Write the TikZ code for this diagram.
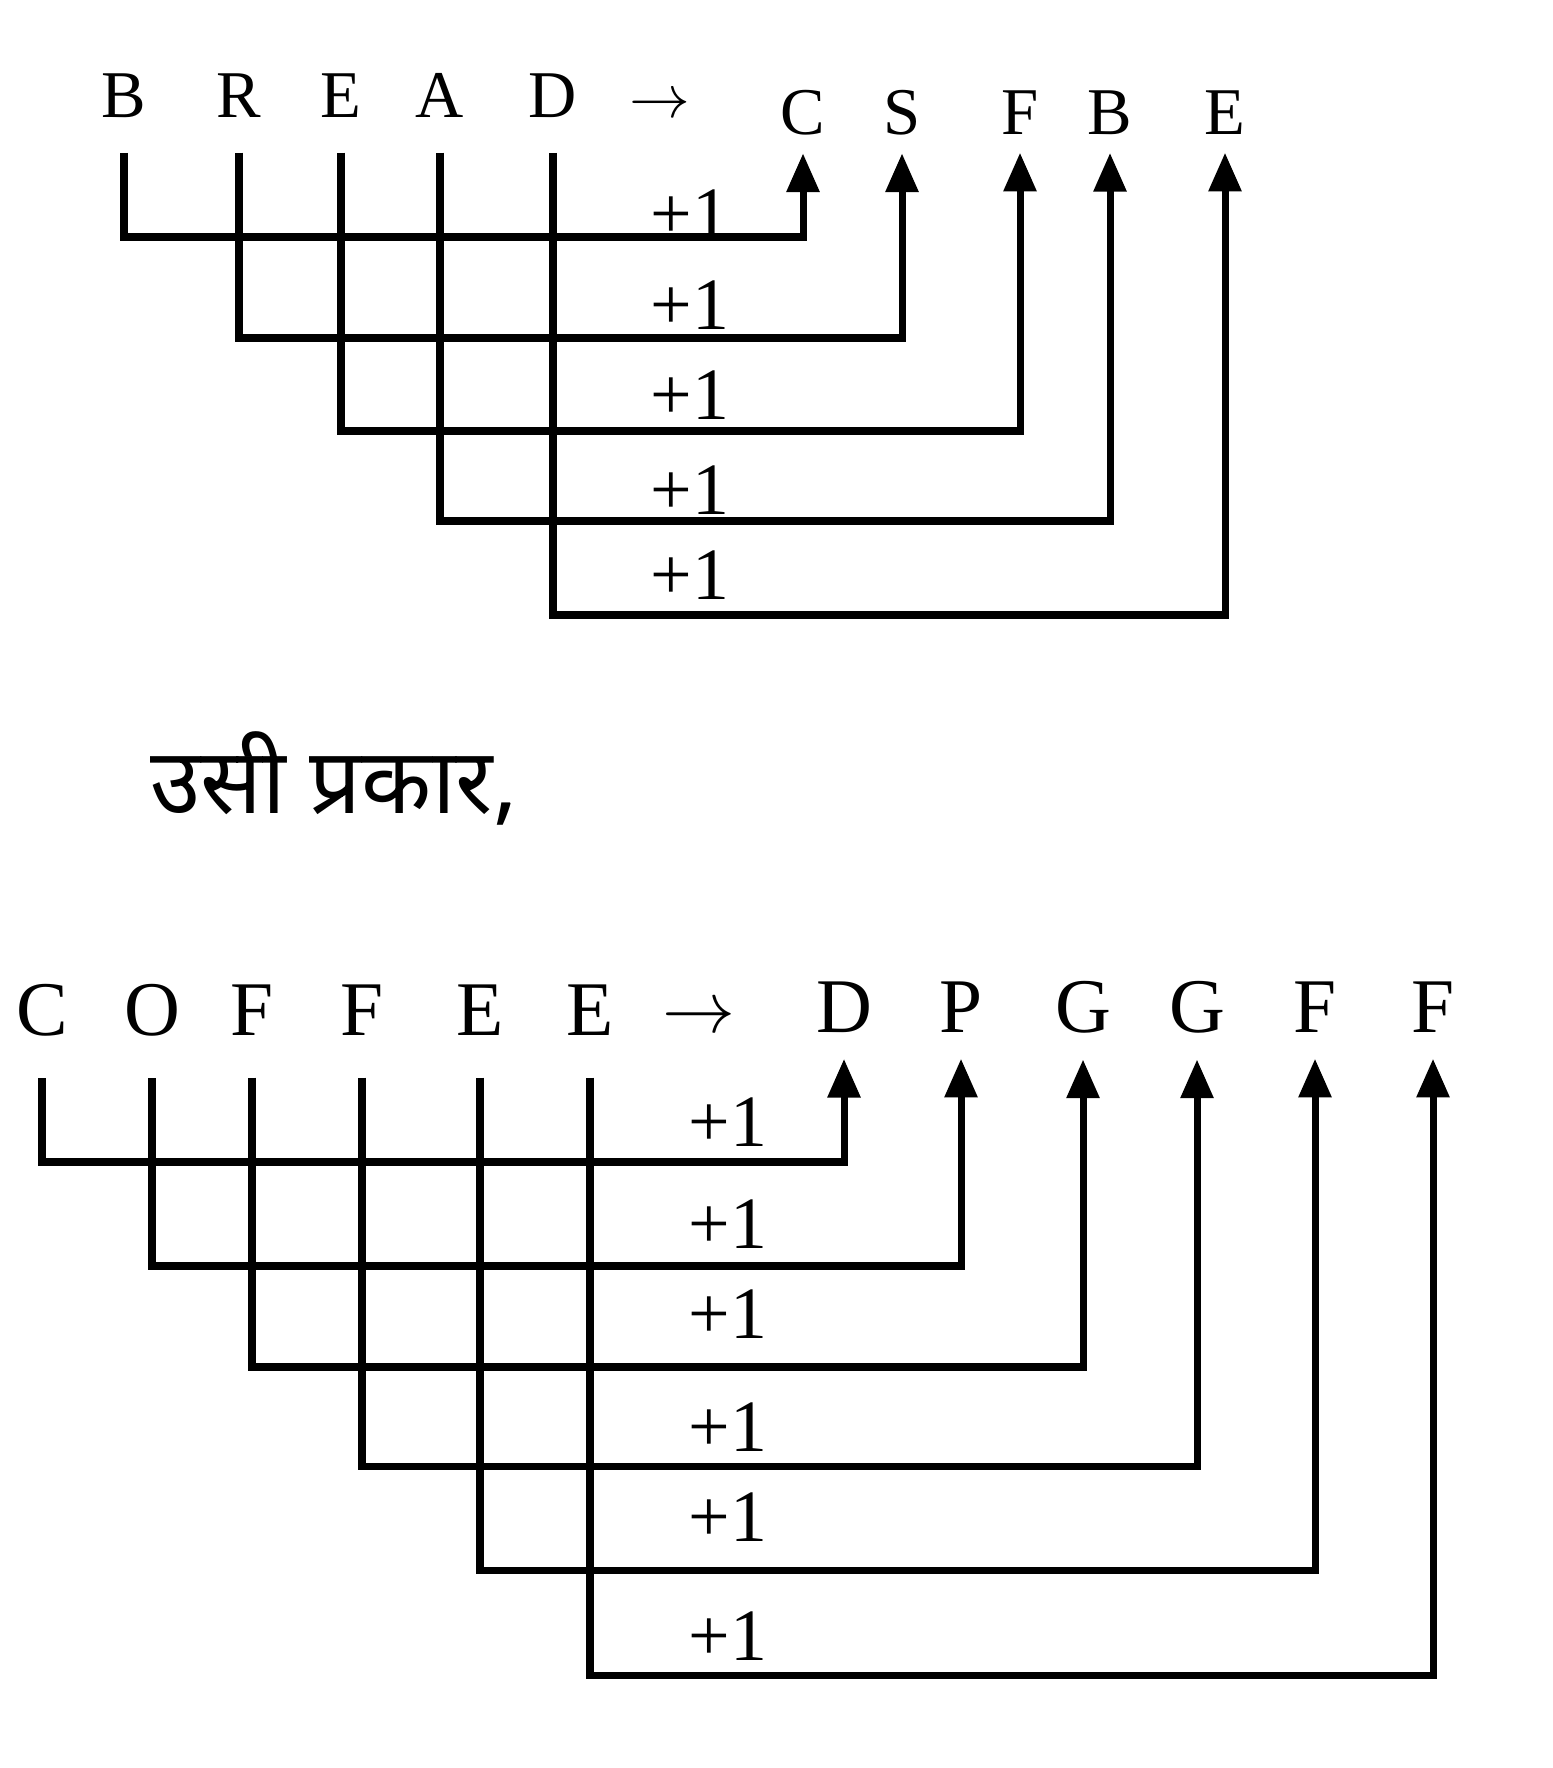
\documentclass[tikz,border=0pt]{standalone}
\usepackage{fontspec}
\setmainfont{Liberation Serif}
\newfontfamily\hindifont[Script=Devanagari]{Noto Sans}
\usetikzlibrary{arrows.meta}

\tikzset{
    ltrTop/.style={inner sep=0pt, anchor=base, font=\fontsize{19}{19}\selectfont},
    ltrBot/.style={inner sep=0pt, anchor=base, font=\fontsize{22}{22}\selectfont},
    incLabel/.style={inner sep=0pt, font=\fontsize{21}{21}\selectfont},
    lnkTop/.style={line width=2pt, shorten <=0.34cm, shorten >=0.17cm, -{Triangle[width=9pt,length=11pt]}},
    lnkBot/.style={line width=2pt, shorten <=0.42cm, shorten >=0.26cm, -{Triangle[width=9pt,length=11pt]}}
}

\begin{document}
\begin{tikzpicture}
    \useasboundingbox (0,0) rectangle (15.52,-17.68);

    % BREAD -> CSFBE
    \node[ltrTop] (ndTopSrc1) at (1.24,-1.18) {B};
    \node[ltrTop] (ndTopSrc2) at (2.39,-1.18) {R};
    \node[ltrTop] (ndTopSrc3) at (3.41,-1.18) {E};
    \node[ltrTop] (ndTopSrc4) at (4.40,-1.18) {A};
    \node[ltrTop] (ndTopSrc5) at (5.53,-1.18) {D};
    \node[ltrTop] (ndTopArrow) at (6.60,-1.18) {$\rightarrow$};
    \node[ltrTop] (ndTopDst1) at (8.03,-1.35) {C};
    \node[ltrTop] (ndTopDst2) at (9.02,-1.35) {S};
    \node[ltrTop] (ndTopDst3) at (10.20,-1.35) {F};
    \node[ltrTop] (ndTopDst4) at (11.10,-1.35) {B};
    \node[ltrTop] (ndTopDst5) at (12.25,-1.35) {E};

    \coordinate (lvTop1) at (0,-2.37);
    \coordinate (lvTop2) at (0,-3.38);
    \coordinate (lvTop3) at (0,-4.31);
    \coordinate (lvTop4) at (0,-5.21);
    \coordinate (lvTop5) at (0,-6.15);

    \draw[lnkTop] (ndTopSrc1.south) -- (ndTopSrc1.south |- lvTop1) -| (ndTopDst1.south);
    \draw[lnkTop] (ndTopSrc2.south) -- (ndTopSrc2.south |- lvTop2) -| (ndTopDst2.south);
    \draw[lnkTop] (ndTopSrc3.south) -- (ndTopSrc3.south |- lvTop3) -| (ndTopDst3.south);
    \draw[lnkTop] (ndTopSrc4.south) -- (ndTopSrc4.south |- lvTop4) -| (ndTopDst4.south);
    \draw[lnkTop] (ndTopSrc5.south) -- (ndTopSrc5.south |- lvTop5) -| (ndTopDst5.south);

    \node[incLabel] (ndTopInc1) at (6.90,-2.14) {+1};
    \node[incLabel] (ndTopInc2) at (6.90,-3.05) {+1};
    \node[incLabel] (ndTopInc3) at (6.90,-3.95) {+1};
    \node[incLabel] (ndTopInc4) at (6.90,-4.90) {+1};
    \node[incLabel] (ndTopInc5) at (6.90,-5.75) {+1};

    \node[inner sep=0pt, anchor=west, font=\hindifont\fontsize{26}{26}\selectfont] (ndHindi) at (1.50,-7.78) {उसी प्रकार,};

    % COFFEE -> DPGGFF
    \node[ltrBot] (ndBotSrc1) at (0.42,-10.35) {C};
    \node[ltrBot] (ndBotSrc2) at (1.52,-10.35) {O};
    \node[ltrBot] (ndBotSrc3) at (2.52,-10.35) {F};
    \node[ltrBot] (ndBotSrc4) at (3.62,-10.35) {F};
    \node[ltrBot] (ndBotSrc5) at (4.80,-10.35) {E};
    \node[ltrBot] (ndBotSrc6) at (5.90,-10.35) {E};
    \node[ltrBot] (ndBotArrow) at (6.99,-10.32) {$\rightarrow$};
    \node[ltrBot] (ndBotDst1) at (8.44,-10.32) {D};
    \node[ltrBot] (ndBotDst2) at (9.61,-10.32) {P};
    \node[ltrBot] (ndBotDst3) at (10.83,-10.32) {G};
    \node[ltrBot] (ndBotDst4) at (11.97,-10.32) {G};
    \node[ltrBot] (ndBotDst5) at (13.15,-10.32) {F};
    \node[ltrBot] (ndBotDst6) at (14.33,-10.32) {F};

    \coordinate (lvBot1) at (0,-11.62);
    \coordinate (lvBot2) at (0,-12.66);
    \coordinate (lvBot3) at (0,-13.67);
    \coordinate (lvBot4) at (0,-14.66);
    \coordinate (lvBot5) at (0,-15.70);
    \coordinate (lvBot6) at (0,-16.75);

    \draw[lnkBot] (ndBotSrc1.south) -- (ndBotSrc1.south |- lvBot1) -| (ndBotDst1.south);
    \draw[lnkBot] (ndBotSrc2.south) -- (ndBotSrc2.south |- lvBot2) -| (ndBotDst2.south);
    \draw[lnkBot] (ndBotSrc3.south) -- (ndBotSrc3.south |- lvBot3) -| (ndBotDst3.south);
    \draw[lnkBot] (ndBotSrc4.south) -- (ndBotSrc4.south |- lvBot4) -| (ndBotDst4.south);
    \draw[lnkBot] (ndBotSrc5.south) -- (ndBotSrc5.south |- lvBot5) -| (ndBotDst5.south);
    \draw[lnkBot] (ndBotSrc6.south) -- (ndBotSrc6.south |- lvBot6) -| (ndBotDst6.south);

    \node[incLabel] (ndBotInc1) at (7.28,-11.22) {+1};
    \node[incLabel] (ndBotInc2) at (7.28,-12.24) {+1};
    \node[incLabel] (ndBotInc3) at (7.28,-13.14) {+1};
    \node[incLabel] (ndBotInc4) at (7.28,-14.27) {+1};
    \node[incLabel] (ndBotInc5) at (7.28,-15.17) {+1};
    \node[incLabel] (ndBotInc6) at (7.28,-16.36) {+1};
\end{tikzpicture}
\end{document}
